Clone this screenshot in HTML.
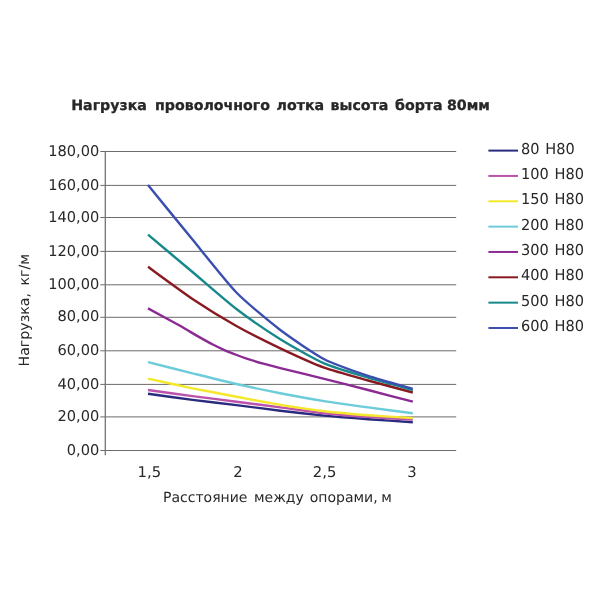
<!DOCTYPE html>
<html lang="ru"><head><meta charset="utf-8"><title>Нагрузка проволочного лотка</title>
<style>html,body{margin:0;padding:0;background:#fff}body{width:600px;height:600px;overflow:hidden}svg{display:block;will-change:transform}text{font-family:"DejaVu Sans", "Liberation Sans", sans-serif;fill:#282828;text-rendering:geometricPrecision}</style></head><body>
<svg width="600" height="600" viewBox="0 0 600 600">
<rect width="600" height="600" fill="#fff"/>
<g stroke="#6c6c6c" stroke-width="1" fill="none">
<line x1="100.30" y1="450.50" x2="456.20" y2="450.50"/>
<line x1="100.30" y1="416.90" x2="456.20" y2="416.90"/>
<line x1="100.30" y1="384.40" x2="456.20" y2="384.40"/>
<line x1="100.30" y1="350.80" x2="456.20" y2="350.80"/>
<line x1="100.30" y1="317.30" x2="456.20" y2="317.30"/>
<line x1="100.30" y1="284.80" x2="456.20" y2="284.80"/>
<line x1="100.30" y1="251.40" x2="456.20" y2="251.40"/>
<line x1="100.30" y1="217.50" x2="456.20" y2="217.50"/>
<line x1="100.30" y1="185.40" x2="456.20" y2="185.40"/>
<line x1="100.30" y1="151.50" x2="456.20" y2="151.50"/>
<line x1="105.30" y1="151" x2="105.30" y2="455.30" stroke-width="1.3" stroke="#747474"/>
</g>
<g font-size="14.8" text-anchor="end">
<text transform="translate(99.3,454.60) scale(0.985,1)">0,00</text>
<text transform="translate(99.3,421.00) scale(0.985,1)">20,00</text>
<text transform="translate(99.3,388.50) scale(0.985,1)">40,00</text>
<text transform="translate(99.3,354.90) scale(0.985,1)">60,00</text>
<text transform="translate(99.3,321.40) scale(0.985,1)">80,00</text>
<text transform="translate(99.3,288.90) scale(0.985,1)">100,00</text>
<text transform="translate(99.3,255.50) scale(0.985,1)">120,00</text>
<text transform="translate(99.3,221.60) scale(0.985,1)">140,00</text>
<text transform="translate(99.3,189.50) scale(0.985,1)">160,00</text>
<text transform="translate(99.3,155.60) scale(0.985,1)">180,00</text>
</g>
<g font-size="14.8" text-anchor="middle">
<text x="149.3" y="477.3">1,5</text>
<text x="237.9" y="477.3">2</text>
<text x="324.6" y="477.3">2,5</text>
<text x="411.9" y="477.3">3</text>
</g>
<g fill="none" stroke-width="2.4" stroke-linecap="butt" stroke-linejoin="round">
<path stroke="#2a2b7e" d="M148.00,393.70 C152.75,394.36 183.07,398.68 192.50,399.90 C201.93,401.12 227.03,403.95 236.40,405.10 C245.77,406.25 270.93,409.58 280.30,410.70 C289.67,411.82 314.83,414.69 324.20,415.60 C333.57,416.51 358.65,418.50 368.10,419.20 C377.55,419.90 408.03,421.88 412.80,422.20"/>
<path stroke="#bb52ab" d="M148.00,390.00 C152.75,390.65 183.07,394.85 192.50,396.10 C201.93,397.35 227.03,400.49 236.40,401.70 C245.77,402.91 270.93,406.17 280.30,407.40 C289.67,408.63 314.83,412.19 324.20,413.20 C333.57,414.21 358.65,416.22 368.10,416.90 C377.55,417.58 408.03,419.31 412.80,419.60"/>
<path stroke="#f4e82c" d="M148.00,378.70 C152.75,379.72 183.07,386.38 192.50,388.30 C201.93,390.22 227.03,394.93 236.40,396.70 C245.77,398.47 270.93,403.35 280.30,404.90 C289.67,406.45 314.83,410.10 324.20,411.20 C333.57,412.30 358.65,414.46 368.10,415.20 C377.55,415.94 408.03,417.79 412.80,418.10"/>
<path stroke="#6cccd9" d="M148.00,362.20 C152.75,363.38 183.07,370.97 192.50,373.30 C201.93,375.63 227.03,381.88 236.40,384.00 C245.77,386.12 270.93,391.38 280.30,393.20 C289.67,395.02 314.83,399.59 324.20,401.10 C333.57,402.61 358.65,406.10 368.10,407.40 C377.55,408.70 408.03,412.67 412.80,413.30"/>
<path stroke="#8c2a93" d="M148.00,308.40 C151.41,310.26 174.81,322.90 180.00,325.80 C185.19,328.70 193.15,333.57 196.70,335.60 C200.25,337.63 210.28,343.23 213.30,344.80 C216.32,346.37 222.50,349.21 225.00,350.30 C227.50,351.39 234.39,354.11 236.70,355.00 C239.01,355.89 243.86,357.67 246.70,358.60 C249.54,359.53 259.72,362.69 263.30,363.70 C266.88,364.71 273.80,366.48 280.30,368.10 C286.80,369.72 314.83,376.56 324.20,378.90 C333.57,381.24 358.65,387.57 368.10,390.00 C377.55,392.43 408.03,400.45 412.80,401.70"/>
<path stroke="#8a1a22" d="M148.00,266.80 C152.75,270.22 183.07,292.59 192.50,298.90 C201.93,305.21 227.03,320.72 236.40,326.00 C245.77,331.28 270.93,343.95 280.30,348.40 C289.67,352.85 314.83,364.28 324.20,367.70 C333.57,371.12 358.65,377.85 368.10,380.50 C377.55,383.15 408.03,391.22 412.80,392.50"/>
<path stroke="#17898b" d="M148.00,234.70 C152.75,238.68 183.07,264.07 192.50,272.00 C201.93,279.93 227.03,301.83 236.40,309.00 C245.77,316.17 270.93,333.40 280.30,339.20 C289.67,345.00 314.83,359.29 324.20,363.40 C333.57,367.51 358.65,374.86 368.10,377.70 C377.55,380.54 408.03,388.69 412.80,390.00"/>
<path stroke="#3b4fb0" d="M148.00,185.00 C152.75,190.82 183.07,228.13 192.50,239.60 C201.93,251.07 227.03,282.86 236.40,292.50 C245.77,302.14 270.93,322.89 280.30,330.00 C289.67,337.11 314.83,354.31 324.20,359.20 C333.57,364.09 358.65,372.64 368.10,375.80 C377.55,378.96 408.03,387.41 412.80,388.80"/>
</g>
<g font-size="15">
<line x1="488.4" y1="150.60" x2="518" y2="150.60" stroke="#2a2b7e" stroke-width="2"/>
<text transform="translate(520.9,153.60) scale(0.97,1)" word-spacing="1.3">80 H80</text>
<line x1="488.4" y1="175.94" x2="518" y2="175.94" stroke="#bb52ab" stroke-width="2"/>
<text transform="translate(520.9,178.94) scale(0.97,1)" word-spacing="1.3">100 H80</text>
<line x1="488.4" y1="201.28" x2="518" y2="201.28" stroke="#f4e82c" stroke-width="2"/>
<text transform="translate(520.9,204.28) scale(0.97,1)" word-spacing="1.3">150 H80</text>
<line x1="488.4" y1="226.62" x2="518" y2="226.62" stroke="#6cccd9" stroke-width="2"/>
<text transform="translate(520.9,229.62) scale(0.97,1)" word-spacing="1.3">200 H80</text>
<line x1="488.4" y1="251.96" x2="518" y2="251.96" stroke="#8c2a93" stroke-width="2"/>
<text transform="translate(520.9,254.96) scale(0.97,1)" word-spacing="1.3">300 H80</text>
<line x1="488.4" y1="277.30" x2="518" y2="277.30" stroke="#8a1a22" stroke-width="2"/>
<text transform="translate(520.9,280.30) scale(0.97,1)" word-spacing="1.3">400 H80</text>
<line x1="488.4" y1="302.64" x2="518" y2="302.64" stroke="#17898b" stroke-width="2"/>
<text transform="translate(520.9,305.64) scale(0.97,1)" word-spacing="1.3">500 H80</text>
<line x1="488.4" y1="327.98" x2="518" y2="327.98" stroke="#3b4fb0" stroke-width="2"/>
<text transform="translate(520.9,330.98) scale(0.97,1)" word-spacing="1.3">600 H80</text>
</g>
<text y="109.6" font-size="14.2" font-weight="bold" fill="#111" stroke="#111" stroke-width="0.25"><tspan x="71.2">Нагрузка</tspan> <tspan x="155.0">проволочного</tspan> <tspan x="276.6">лотка</tspan> <tspan x="330.6">высота</tspan> <tspan x="395.0">борта</tspan> <tspan x="447.0">80мм</tspan></text>
<text y="501.7" font-size="14"><tspan x="163.0">Расстояние</tspan> <tspan x="254.0">между</tspan> <tspan x="309.8">опорами,</tspan> <tspan x="381.3">м</tspan></text>
<text transform="translate(28.5,366.5) rotate(-90)" font-size="14.2"><tspan x="0">Нагрузка,</tspan> <tspan x="81.0">кг/м</tspan></text>
</svg></body></html>
